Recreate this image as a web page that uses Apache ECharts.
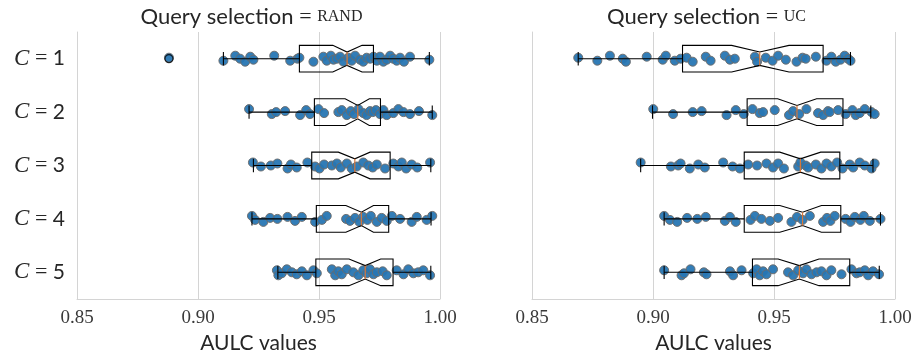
<!DOCTYPE html>
<html><head><meta charset="utf-8">
<script src="https://cdn.jsdelivr.net/npm/echarts@6/dist/echarts.min.js"></script>
<style>html,body{margin:0;padding:0;background:#fff}#c{width:916px;height:354px}</style>
</head><body><div id="c"></div>
<script>
// ---------- data ----------
const cValues = ['1', '2', '3', '4', '5'];
const panelTitles = ['RAND', 'UC'];
const xTicks = [0.85, 0.90, 0.95, 1.00];
const xLabel = 'AULC values';

// RAND: strip points per C
const randC1 = [0.888, 0.9105, 0.9154, 0.9174, 0.9195, 0.9216, 0.9229, 0.9315, 0.9381, 0.9411, 0.9419, 0.9477, 0.9518, 0.9532, 0.9549, 0.9560, 0.9574, 0.9587, 0.9601, 0.9621, 0.9635, 0.9649, 0.9670, 0.9683, 0.9697, 0.9711, 0.9725, 0.9739, 0.9752, 0.9766, 0.9780, 0.9794, 0.9807, 0.9821, 0.9835, 0.9851, 0.9876, 0.9956];
const randC2 = [0.9211, 0.9305, 0.9323, 0.9360, 0.9422, 0.9447, 0.9463, 0.9498, 0.9521, 0.9580, 0.9594, 0.9615, 0.9631, 0.9645, 0.9663, 0.9683, 0.9697, 0.9711, 0.9722, 0.9735, 0.9752, 0.9766, 0.9780, 0.9807, 0.9828, 0.9849, 0.9876, 0.9913, 0.9968];
const randC3 = [0.9227, 0.9260, 0.9301, 0.9328, 0.9370, 0.9384, 0.9408, 0.9452, 0.9484, 0.9502, 0.9521, 0.9553, 0.9574, 0.9590, 0.9615, 0.9635, 0.9656, 0.9683, 0.9704, 0.9722, 0.9739, 0.9773, 0.9807, 0.9828, 0.9842, 0.9860, 0.9883, 0.9906, 0.9959];
const randC4 = [0.9223, 0.9236, 0.9270, 0.9298, 0.9328, 0.9370, 0.9401, 0.9429, 0.9484, 0.9512, 0.9532, 0.9612, 0.9628, 0.9649, 0.9667, 0.9683, 0.9700, 0.9714, 0.9739, 0.9759, 0.9780, 0.9801, 0.9835, 0.9883, 0.9904, 0.9945, 0.9968];
const randC5 = [0.9326, 0.9332, 0.9346, 0.9367, 0.9388, 0.9408, 0.9429, 0.9450, 0.9477, 0.9491, 0.9553, 0.9567, 0.9580, 0.9594, 0.9615, 0.9642, 0.9663, 0.9683, 0.9697, 0.9711, 0.9725, 0.9739, 0.9763, 0.9780, 0.9821, 0.9849, 0.9869, 0.9890, 0.9910, 0.9931, 0.9959];
// UC: strip points per C
const ucC1 = [0.8691, 0.8770, 0.8822, 0.8875, 0.8888, 0.8974, 0.9040, 0.9053, 0.9090, 0.9114, 0.9139, 0.9164, 0.9218, 0.9238, 0.9297, 0.9318, 0.9338, 0.9421, 0.9430, 0.9466, 0.9494, 0.9517, 0.9549, 0.9593, 0.9618, 0.9631, 0.9673, 0.9717, 0.9737, 0.9755, 0.9775, 0.9792, 0.9806, 0.9816];
const ucC2 = [0.9001, 0.9083, 0.9164, 0.9201, 0.9304, 0.9342, 0.9375, 0.9411, 0.9441, 0.9455, 0.9503, 0.9562, 0.9579, 0.9604, 0.9634, 0.9682, 0.9703, 0.9723, 0.9730, 0.9765, 0.9796, 0.9824, 0.9838, 0.9854, 0.9875, 0.9903, 0.9916];
const ucC3 = [0.8949, 0.9074, 0.9104, 0.9114, 0.9152, 0.9187, 0.9214, 0.9290, 0.9329, 0.9359, 0.9393, 0.9430, 0.9469, 0.9496, 0.9517, 0.9541, 0.9600, 0.9609, 0.9631, 0.9641, 0.9673, 0.9696, 0.9717, 0.9737, 0.9761, 0.9783, 0.9813, 0.9827, 0.9854, 0.9875, 0.9903, 0.9916];
const ucC4 = [0.9046, 0.9070, 0.9100, 0.9141, 0.9183, 0.9218, 0.9297, 0.9318, 0.9342, 0.9403, 0.9421, 0.9448, 0.9483, 0.9517, 0.9572, 0.9595, 0.9618, 0.9648, 0.9703, 0.9719, 0.9733, 0.9751, 0.9796, 0.9816, 0.9834, 0.9857, 0.9871, 0.9896, 0.9940];
const ucC5 = [0.9046, 0.9118, 0.9128, 0.9155, 0.9210, 0.9221, 0.9318, 0.9331, 0.9366, 0.9414, 0.9428, 0.9441, 0.9455, 0.9469, 0.9496, 0.9558, 0.9579, 0.9600, 0.9620, 0.9634, 0.9655, 0.9676, 0.9696, 0.9717, 0.9737, 0.9779, 0.9820, 0.9841, 0.9854, 0.9875, 0.9889, 0.9909, 0.9934];

// box stats per C: [whiskerLow, Q1, notchLow, median, notchHigh, Q3, whiskerHigh]
const randStats = [
  [0.9105, 0.9419, 0.9557, 0.9616, 0.9678, 0.9725, 0.9956],
  [0.9211, 0.9481, 0.9608, 0.9660, 0.9708, 0.9754, 0.9968],
  [0.9229, 0.9470, 0.9580, 0.9648, 0.9711, 0.9794, 0.9962],
  [0.9223, 0.9489, 0.9611, 0.9675, 0.9725, 0.9788, 0.9963],
  [0.9330, 0.9487, 0.9624, 0.9691, 0.9755, 0.9806, 0.9962]
];
const ucStats = [
  [0.8691, 0.9122, 0.9325, 0.9441, 0.9562, 0.9703, 0.9816],
  [0.8998, 0.9389, 0.9515, 0.9595, 0.9676, 0.9785, 0.9900],
  [0.8949, 0.9377, 0.9524, 0.9609, 0.9693, 0.9772, 0.9909],
  [0.9046, 0.9377, 0.9524, 0.9618, 0.9696, 0.9776, 0.9940],
  [0.9046, 0.9411, 0.9517, 0.9605, 0.9686, 0.9813, 0.9935]
];
// outliers: [value, C index]
const randFliers = [[0.888, 0]];
const ucFliers = [];

// ---------- styling ----------
const jitterPx = [-1, 2, -3, 0, 3, -2, 1, -3, 2, 0, -1, 3, -2, 2, -3, 1, 0, -2, 3, -1, 2, -3, 1, 3, -1, 0, -2, 2, -2, 3, 1, -3, 0, 2, -1, 3, -2, 1, -3, 3];
const TXT = '#262626';
const GRIDC = '#d4d4d4';
const SANS = 'Lato';
const SERIF = 'Liberation Serif';

const randPoints = [randC1, randC2, randC3, randC4, randC5];
const ucPoints = [ucC1, ucC2, ucC3, ucC4, ucC5];

function stripData(rows) {
  const out = [];
  rows.forEach((vals, r) => {
    vals.forEach((v, i) => {
      out.push({ value: [v, r], symbolOffset: [0, jitterPx[(i + r * 7) % jitterPx.length]] });
    });
  });
  return out;
}
function boxData(stats) {
  return stats.map((s, r) => [r].concat(s));
}
function renderBox(params, api) {
  const r = api.value(0);
  const band = api.size([0, 1])[1];
  const h = band * 0.25;
  const X = i => api.coord([api.value(i), r])[0];
  const yc = api.coord([api.value(4), r])[1];
  const wlo = X(1), q1 = X(2), nlo = X(3), med = X(4), nhi = X(5), q3 = X(6), whi = X(7);
  const ls = { stroke: '#000', lineWidth: 1.1, fill: null };
  return {
    type: 'group',
    children: [
      { type: 'polygon', shape: { points: [[q1, yc - h], [nlo, yc - h], [med, yc - h / 2], [nhi, yc - h], [q3, yc - h], [q3, yc + h], [nhi, yc + h], [med, yc + h / 2], [nlo, yc + h], [q1, yc + h]] }, style: { stroke: '#000', lineWidth: 1.1, fill: 'rgba(0,0,0,0)' } },
      { type: 'line', shape: { x1: wlo, y1: yc, x2: q1, y2: yc }, style: ls },
      { type: 'line', shape: { x1: q3, y1: yc, x2: whi, y2: yc }, style: ls },
      { type: 'line', shape: { x1: wlo, y1: yc - h / 2, x2: wlo, y2: yc + h / 2 }, style: ls },
      { type: 'line', shape: { x1: whi, y1: yc - h / 2, x2: whi, y2: yc + h / 2 }, style: ls },
      { type: 'line', shape: { x1: med, y1: yc - h / 2, x2: med, y2: yc + h / 2 }, style: { stroke: '#d9783a', lineWidth: 1.2 } }
    ]
  };
}

const grids = [
  { left: 77, top: 32, width: 363, height: 267, containLabel: false, outerBoundsMode: 'none' },
  { left: 532, top: 32, width: 363, height: 267, containLabel: false, outerBoundsMode: 'none' }
];
function xAxisFor(i) {
  return {
    type: 'value', gridIndex: i, min: xTicks[0], max: xTicks[xTicks.length - 1], interval: 0.05,
    axisLine: { show: true, lineStyle: { color: GRIDC, width: 1 } },
    axisTick: { show: false },
    splitLine: { show: true, lineStyle: { color: GRIDC, width: 1 } },
    axisLabel: { margin: 10, color: '#3a3a3a', fontFamily: SERIF, fontSize: 19, formatter: v => v.toFixed(2) },
    name: xLabel, nameLocation: 'middle', nameGap: 32,
    nameTextStyle: { color: TXT, fontFamily: SANS, fontSize: 21 }
  };
}
function yAxisFor(i) {
  return {
    type: 'category', gridIndex: i, data: cValues, inverse: true,
    axisLine: { show: true, lineStyle: { color: GRIDC, width: 1 } },
    axisTick: { show: false },
    splitLine: { show: false },
    axisLabel: {
      show: i === 0, margin: 12,
      formatter: v => '{i|C}{e| = }{n|' + v + '}',
      rich: {
        i: { fontFamily: SERIF, fontStyle: 'italic', fontSize: 23, color: TXT },
        e: { fontFamily: SERIF, fontSize: 22, color: TXT },
        n: { fontFamily: SANS, fontSize: 21, color: TXT }
      }
    }
  };
}
const series = [];
[[randPoints, randStats, randFliers], [ucPoints, ucStats, ucFliers]].forEach((p, i) => {
  series.push({
    type: 'scatter', xAxisIndex: i, yAxisIndex: i, z: 2,
    symbol: 'circle', symbolSize: 9,
    itemStyle: { color: '#2776b3', borderColor: '#6b6b6b', borderWidth: 1, opacity: 0.95 },
    data: stripData(p[0])
  });
  series.push({
    type: 'custom', xAxisIndex: i, yAxisIndex: i, z: 3,
    renderItem: renderBox, encode: { x: [1, 2, 3, 4, 5, 6, 7], y: 0 },
    data: boxData(p[1])
  });
  series.push({
    type: 'scatter', xAxisIndex: i, yAxisIndex: i, z: 4,
    symbol: 'circle', symbolSize: 8,
    itemStyle: { color: 'rgba(0,0,0,0)', borderColor: '#000', borderWidth: 1.2 },
    data: p[2]
  });
});

const chart = echarts.init(document.getElementById('c'), null, { renderer: 'canvas' });
chart.setOption({
  animation: false,
  backgroundColor: '#fff',
  grid: grids,
  xAxis: [xAxisFor(0), xAxisFor(1)],
  yAxis: [yAxisFor(0), yAxisFor(1)],
  graphic: panelTitles.map((t, i) => ({
    type: 'text', x: grids[i].left + grids[i].width / 2 - 7, y: 17,
    style: {
      text: '{a|Query selection }{e|= }{s|' + t + '}',
      align: 'center', verticalAlign: 'middle',
      rich: {
        a: { fontFamily: SANS, fontSize: 22, fill: TXT, color: TXT },
        e: { fontFamily: SERIF, fontSize: 22, fill: TXT, color: TXT },
        s: { fontFamily: SERIF, fontSize: 16, fill: TXT, color: TXT }
      }
    }
  })),
  series: series
});
</script>
</body></html>
